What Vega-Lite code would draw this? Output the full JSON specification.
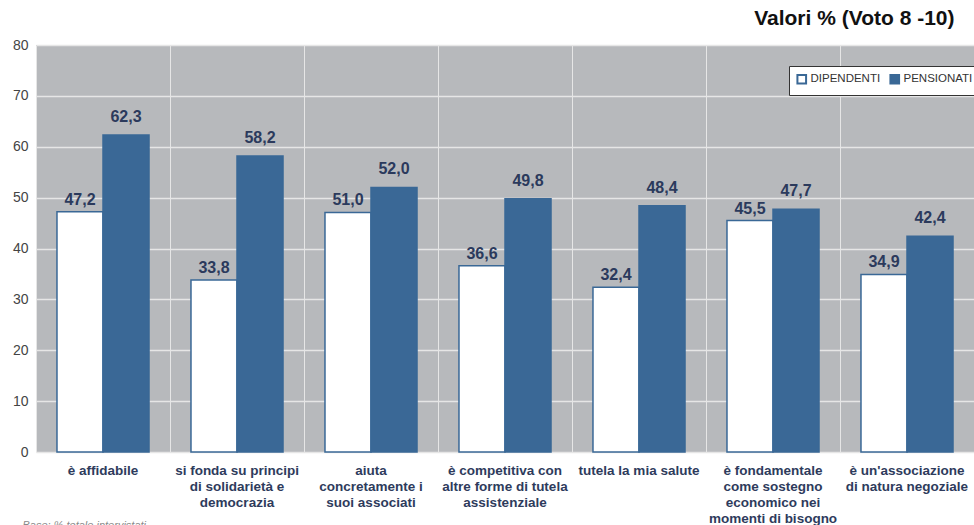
{
  "$schema": "https://vega.github.io/schema/vega-lite/v6.json",
  "autosize": {"type": "none"},
  "padding": {"left": 36, "top": 45, "right": 0, "bottom": 73},
  "width": 938,
  "height": 407,
  "background": "white",
  "title": {
    "text": "Valori % (Voto 8 -10)",
    "anchor": "end",
    "orient": "top",
    "font": "Liberation Sans",
    "fontSize": 21,
    "fontWeight": "bold",
    "color": "#111111",
    "offset": 9,
    "dx": -26
  },
  "data": {
    "values": [
      {"cat": "è affidabile", "serie": "DIPENDENTI", "value": 47.2, "label": "47,2"},
      {"cat": "è affidabile", "serie": "PENSIONATI", "value": 62.3, "label": "62,3"},
      {"cat": "si fonda su principi|di solidarietà e|democrazia", "serie": "DIPENDENTI", "value": 33.8, "label": "33,8"},
      {"cat": "si fonda su principi|di solidarietà e|democrazia", "serie": "PENSIONATI", "value": 58.2, "label": "58,2"},
      {"cat": "aiuta|concretamente i|suoi associati", "serie": "DIPENDENTI", "value": 47.1, "label": "51,0"},
      {"cat": "aiuta|concretamente i|suoi associati", "serie": "PENSIONATI", "value": 52.0, "label": "52,0"},
      {"cat": "è competitiva con|altre forme di tutela|assistenziale", "serie": "DIPENDENTI", "value": 36.6, "label": "36,6"},
      {"cat": "è competitiva con|altre forme di tutela|assistenziale", "serie": "PENSIONATI", "value": 49.8, "label": "49,8"},
      {"cat": "tutela la mia salute", "serie": "DIPENDENTI", "value": 32.4, "label": "32,4"},
      {"cat": "tutela la mia salute", "serie": "PENSIONATI", "value": 48.4, "label": "48,4"},
      {"cat": "è fondamentale|come sostegno|economico nei|momenti di bisogno", "serie": "DIPENDENTI", "value": 45.5, "label": "45,5"},
      {"cat": "è fondamentale|come sostegno|economico nei|momenti di bisogno", "serie": "PENSIONATI", "value": 47.7, "label": "47,7"},
      {"cat": "è un'associazione|di natura negoziale", "serie": "DIPENDENTI", "value": 34.9, "label": "34,9"},
      {"cat": "è un'associazione|di natura negoziale", "serie": "PENSIONATI", "value": 42.4, "label": "42,4"}
    ]
  },
  "encoding": {
    "x": {
      "field": "cat",
      "type": "nominal",
      "sort": null,
      "scale": {"paddingInner": 0, "paddingOuter": 0},
      "axis": {
        "title": "Base: % totale intervistati",
        "titleFont": "Liberation Sans",
        "titleFontSize": 11,
        "titleFontStyle": "italic",
        "titleFontWeight": "normal",
        "titleColor": "#8a8a8a",
        "titleAnchor": "start",
        "titleAlign": "left",
        "titleBaseline": "top",
        "titleX": -14,
        "titleY": 67,
        "labelAngle": 0,
        "labelExpr": "split(datum.label, '|')",
        "labelFont": "Liberation Sans",
        "labelFontSize": 13.5,
        "labelFontWeight": "bold",
        "labelColor": "#2E3B5C",
        "labelLineHeight": 16,
        "labelBaseline": "top",
        "labelPadding": 11,
        "labelLimit": 0,
        "labelOverlap": false,
        "ticks": false,
        "domain": false,
        "grid": true,
        "gridColor": "#E6E6E6",
        "gridWidth": 1,
        "bandPosition": 0
      }
    },
    "xOffset": {
      "field": "serie",
      "type": "nominal",
      "scale": {"paddingInner": 0, "paddingOuter": 0.456}
    },
    "y": {
      "field": "value",
      "type": "quantitative",
      "scale": {"domain": [0, 80], "nice": false},
      "axis": {
        "title": null,
        "values": [0, 10, 20, 30, 40, 50, 60, 70, 80],
        "labelFont": "Liberation Sans",
        "labelFontSize": 14,
        "labelColor": "#444444",
        "labelPadding": 8,
        "ticks": false,
        "domain": false,
        "grid": true,
        "gridColor": "#E6E6E6",
        "gridWidth": 1.5
      }
    }
  },
  "layer": [
    {
      "mark": {"type": "bar", "stroke": "#3A6896", "strokeWidth": 1.5},
      "encoding": {
        "fill": {
          "field": "serie",
          "type": "nominal",
          "scale": {"domain": ["DIPENDENTI", "PENSIONATI"], "range": ["#FFFFFF", "#3A6896"]},
          "legend": {
            "title": null,
            "orient": "none",
            "legendX": 753,
            "legendY": 21,
            "direction": "horizontal",
            "fillColor": "#FFFFFF",
            "strokeColor": "#333333",
            "padding": 7,
            "symbolType": "square",
            "symbolSize": 75,
            "symbolStrokeColor": "#3A6896",
            "symbolStrokeWidth": 2,
            "symbolOffset": 0,
            "labelOffset": 3,
            "columnPadding": 5,
            "labelFont": "Liberation Sans",
            "labelFontSize": 11.5,
            "labelColor": "#333333"
          }
        }
      }
    },
    {
      "transform": [{"filter": "datum.serie === 'DIPENDENTI'"}],
      "mark": {
        "type": "text",
        "baseline": "bottom",
        "dy": -4,
        "font": "Liberation Sans",
        "fontSize": 16,
        "fontWeight": "bold",
        "color": "#2B3A5C"
      },
      "encoding": {
        "text": {"field": "label", "type": "nominal"}
      }
    },
    {
      "transform": [{"filter": "datum.serie === 'PENSIONATI'"}],
      "mark": {
        "type": "text",
        "baseline": "bottom",
        "dy": -10,
        "font": "Liberation Sans",
        "fontSize": 16,
        "fontWeight": "bold",
        "color": "#2B3A5C"
      },
      "encoding": {
        "text": {"field": "label", "type": "nominal"}
      }
    }
  ],
  "config": {
    "view": {"fill": "#B7B9BC", "stroke": null}
  }
}
